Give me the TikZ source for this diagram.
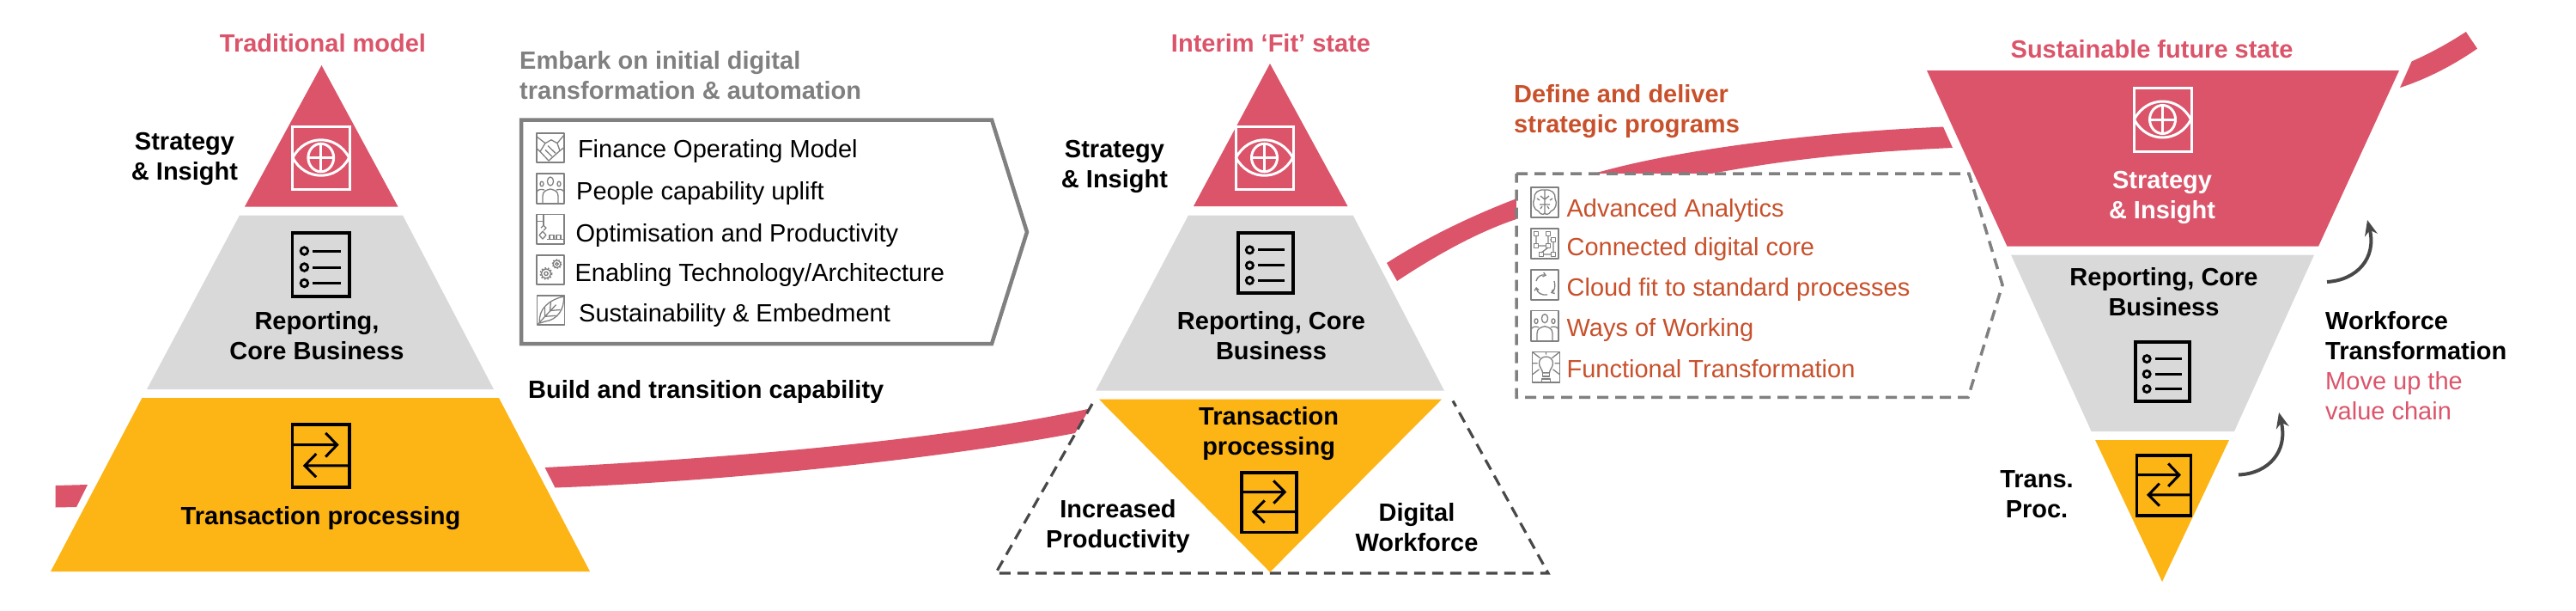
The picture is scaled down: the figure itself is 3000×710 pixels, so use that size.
\documentclass[tikz,border=0pt]{standalone}
\usepackage{fontspec}
\setmainfont{Liberation Sans}
\usetikzlibrary{arrows.meta}
\definecolor{pinkc}{HTML}{DB546A}
\definecolor{greyc}{HTML}{D9D9D9}
\definecolor{yelc}{HTML}{FDB415}
\definecolor{orac}{HTML}{C8502B}
\definecolor{midg}{HTML}{808080}
\definecolor{darkg}{HTML}{484848}
\tikzset{
  lbl/.style={inner sep=0pt,yshift=-3pt,align=center,font=\fontsize{29}{35}\selectfont},
  lblb/.style={lbl,font=\fontsize{29}{35}\selectfont\bfseries},
  lblw/.style={inner sep=0pt,yshift=-3pt,anchor=west,align=left,font=\fontsize{29}{35}\selectfont},
  lblwb/.style={lblw,font=\fontsize{29}{35}\selectfont\bfseries},
  ico/.style={line width=1.3pt,draw=midg,line join=round},
  bandc/.style={fill=pinkc,draw=none},
  flowarrow/.style={draw=darkg,line width=4pt,-{Stealth[length=18pt,width=15pt]}},
}
% large icons: drawn in a 67 x 74 box
\newcommand{\iconeye}[5]{\begin{scope}[shift={(#1,#2)},xscale=#3/67,yscale=#4/74,draw=#5,line width=3pt]
  \draw (0,0) rectangle (67,74);
  \draw (0.5,37) .. controls (15,9) and (52,9) .. (66.5,37) .. controls (52,65) and (15,65) .. (0.5,37) -- cycle;
  \draw (33.5,37) ellipse [x radius=15,y radius=16.5];
  \draw (33.5,20.5) -- (33.5,53.5) (18.5,37) -- (48.5,37);
\end{scope}}
\newcommand{\iconlist}[4]{\begin{scope}[shift={(#1,#2)},xscale=#3/67,yscale=#4/74,draw=black,line width=3.6pt]
  \draw (0,0) rectangle (67,74);
  \foreach \yy in {21,40,58.5}{
    \draw[line width=2.8pt] (14,\yy) circle [radius=4.3];
    \draw[line width=3pt] (24,\yy) -- (57,\yy);}
\end{scope}}
\newcommand{\iconarrows}[4]{\begin{scope}[shift={(#1,#2)},xscale=#3/67,yscale=#4/74,draw=black,line width=3.6pt]
  \draw (0,0) rectangle (67,74);
  \draw[line width=3pt] (0,24) -- (52.5,24) (39,10) -- (52.5,24) -- (39,38);
  \draw[line width=3pt] (67,48.5) -- (14.5,48.5) (28,34.5) -- (14.5,48.5) -- (28,62);
\end{scope}}
% small icons: drawn in a 32 x 35 box
\newcommand{\smallico}[5]{\begin{scope}[shift={(#1,#2)},xscale=#3/32,yscale=#4/35,ico]
  \draw (0,0) rectangle (32,35);
  #5
\end{scope}}
\newcommand{\gshake}{\draw (0,4) -- (10,12) -- (17,8) -- (24,12) -- (32,2);
  \draw (10,12) -- (4,22) -- (14,33) -- (27,21) -- (24,12);
  \draw (13,15) -- (22,24) (10,20) -- (18,28) (4,22) -- (0,18) (27,21) -- (32,17);}
\newcommand{\gpeople}{\draw (16,9) ellipse [x radius=3.6,y radius=5];
  \draw (6,12) ellipse [x radius=2,y radius=2.8] (26,12) ellipse [x radius=2,y radius=2.8];
  \draw (7,35) -- (7,26) .. controls (7,20) and (12,19) .. (16,18) .. controls (20,19) and (25,20) .. (25,26) -- (25,35);
  \draw (0,22) .. controls (1,18) and (5,18) .. (9,19) (32,22) .. controls (31,18) and (27,18) .. (23,19);}
\newcommand{\grobot}{\draw (0,8) -- (8,8) (8,0) -- (8,13);
  \draw (8,13) -- (11,16) -- (8,19) (8,13) -- (5,16);
  \draw (7,20) -- (11,24.5) -- (7,29) -- (3,24.5) -- cycle;
  \draw (12,29.5) -- (32,29.5) (15,24) rectangle (20,29.5) (23,24) rectangle (28,29.5);}
\newcommand{\ggears}{\draw (11,22) circle [radius=2.2] (11,22) circle [radius=5.6];
  \draw[line width=1.8pt,dash pattern=on 1.6pt off 2pt] (11,22) circle [radius=6.6];
  \draw (23.5,10.5) circle [radius=1.8] (23.5,10.5) circle [radius=4.4];
  \draw[line width=1.6pt,dash pattern=on 1.4pt off 1.8pt] (23.5,10.5) circle [radius=5.2];}
\newcommand{\gleaf}{\draw (3,33) .. controls (1,16) and (14,5) .. (31,1) .. controls (32,16) and (24,29) .. (9,31) -- (3,33) -- cycle;
  \draw (1,34) -- (22,11) (9,25) -- (9,14) (9,25) -- (22,24) (15,18) -- (16,7) (15,18) -- (27,17);}
\newcommand{\gbrain}{\draw (16,3) .. controls (8,2) and (3,7) .. (4,13) .. controls (1,18) and (3,26) .. (9,28) .. controls (11,32) and (15,32) .. (16,30) .. controls (17,32) and (21,32) .. (23,28) .. controls (29,26) and (31,18) .. (28,13) .. controls (29,7) and (24,2) .. (16,3) -- cycle;
  \draw (16,3) -- (16,30) (16,14) -- (11,10) (16,14) -- (21,10) (16,20) -- (10,20) (16,20) -- (22,20) (11,25) -- (13,22) (21,25) -- (19,22);
  \draw (7,13) -- (10,15) (25,13) -- (22,15);}
\newcommand{\gnetwork}{\foreach \px/\py in {6/6,20/6,26/13,6/20,20/20,12/30,26/30}{\draw (\px-2.2,\py-2.2) rectangle (\px+2.2,\py+2.2);}
  \draw (6,8) -- (6,18) (8,20) -- (18,20) (20,8) -- (20,18) (22,13) -- (24,13) (20,22) -- (12,28) (14,30) -- (24,30) (26,15) -- (26,28);}
\newcommand{\gcycle}{\draw[-{Straight Barb[length=3pt,width=5pt]}] (6,13) .. controls (7,8) and (12,5) .. (18,6.5);
  \draw[-{Straight Barb[length=3pt,width=5pt]}] (27,13) .. controls (29,19) and (27,25) .. (23,27);
  \draw[-{Straight Barb[length=3pt,width=5pt]}] (19,29) .. controls (13,30) and (7,27) .. (6,20);}
\newcommand{\gbulb}{\draw (12,24) .. controls (12,20) and (8,18) .. (8,13) .. controls (8,3) and (24,3) .. (24,13) .. controls (24,18) and (20,20) .. (20,24) -- cycle;
  \draw (12,24) -- (12,28) -- (20,28) -- (20,24) (11,31) rectangle (21,35);
  \draw (16,0) -- (16,3) (0,0) -- (9,7) (32,0) -- (23,7) (0,13) -- (6,13) (32,13) -- (26,13) (0,26) -- (8,20) (32,26) -- (24,20);}
\begin{document}
\begin{tikzpicture}[x=1pt,y=-1pt]
\useasboundingbox (0,0) rectangle (3000,710);
% ---- sweeping band ----
\fill[bandc] (64.5,565) -- (102,564) -- (89,590) -- (64.5,590.5) -- cycle;
\fill[bandc] (634.5,544) .. controls (850,533) and (1100,512) .. (1269,475.5) -- (1252,504) .. controls (1100,533) and (850,560) .. (646.5,567.5) -- cycle;
\fill[bandc] (1615,306) .. controls (1690,258) and (1780,222) .. (1858,201.5) .. controls (1960,172) and (2130,153) .. (2263,147.6) -- (2274,172) .. controls (2160,177) and (2080,186) .. (1996,201.5) .. controls (1920,215) and (1840,230) .. (1766,255) .. controls (1715,272) and (1665,302) .. (1627,327) -- cycle;
\fill[bandc] (2808.6,71.5) .. controls (2832,61) and (2852,50) .. (2871.8,37) -- (2885,56.6) .. controls (2857,76) and (2826,92) .. (2795,102) -- cycle;
% ---- left pyramid ----
\fill[pinkc] (374.5,76) -- (463.5,240.5) -- (285,240.5) -- cycle;
\fill[greyc] (279,250.5) -- (469,250.5) -- (575,453) -- (171,453) -- cycle;
\fill[yelc] (165.5,463) -- (581,463) -- (687,665) -- (59,665) -- cycle;
\iconeye{340.5}{147}{66.5}{73}{white}
\iconlist{340.5}{271}{66.5}{74}
\iconarrows{340.5}{494}{66.5}{73}
\node[lblb,text=pinkc] (t1) at (376,50.7) {\strut Traditional model};
\node[lblb] (s1) at (215,181.5) {\strut Strategy\\\strut \& Insight};
\node[lblb] (r1) at (369,390.5) {\strut Reporting,\\\strut Core Business};
\node[lblb] (p1) at (373.5,600) {\strut Transaction processing};
% ---- first chevron ----
\node[lblwb,text=midg] (e1) at (605,87.5) {\strut Embark on initial digital\\\strut transformation \& automation};
\draw[midg,line width=4.5pt,fill=white,line join=miter] (607,139.5) -- (1155,139.5) -- (1196,270) -- (1155,400) -- (607,400) -- cycle;
\smallico{625}{155}{32}{34}{\gshake}
\smallico{625}{202}{32}{35}{\gpeople}
\smallico{625}{249.5}{32}{34.5}{\grobot}
\smallico{625}{297}{32}{34}{\ggears}
\smallico{625.5}{344}{32}{34}{\gleaf}
\node[lblw] (a1) at (672.8,173.5) {\strut Finance Operating Model};
\node[lblw] (a2) at (671,222) {\strut People capability uplift};
\node[lblw] (a3) at (670.4,271) {\strut Optimisation and Productivity};
\node[lblw] (a4) at (669.4,317.5) {\strut Enabling Technology/Architecture};
\node[lblw] (a5) at (674,364) {\strut Sustainability \& Embedment};
\node[lblwb] (b1) at (615,453) {\strut Build and transition capability};
% ---- middle pyramid ----
\draw[darkg,line width=3.2pt,dash pattern=on 13pt off 8pt] (1272,470) -- (1159.6,667) -- (1803,667) -- (1692,466.5);
\fill[pinkc] (1479,74) -- (1569.5,240) -- (1390,240) -- cycle;
\fill[greyc] (1384,250.5) -- (1575.7,250.5) -- (1682,454.7) -- (1276,454.7) -- cycle;
\fill[yelc] (1280,464.7) -- (1679,464.7) -- (1479,665.8) -- cycle;
\iconeye{1439}{147}{67}{73}{white}
\iconlist{1442}{271}{64}{70}
\iconarrows{1446}{550}{64}{69.5}
\node[lblb,text=pinkc] (t2) at (1480,50) {\strut Interim ‘Fit’ state};
\node[lblb] (s2) at (1298,190.5) {\strut Strategy\\\strut \& Insight};
\node[lblb] (r2) at (1480.5,390.5) {\strut Reporting, Core\\\strut Business};
\node[lblb] (p2) at (1477.6,502) {\strut Transaction\\\strut processing};
\node[lblb] (i2) at (1302,609.5) {\strut Increased\\\strut Productivity};
\node[lblb] (d2) at (1650,613.5) {\strut Digital\\\strut Workforce};
% ---- second chevron ----
\node[lblwb,text=orac] (e2) at (1763,126.7) {\strut Define and deliver\\\strut strategic programs};
\draw[midg,line width=3.5pt,fill=white,dash pattern=on 13pt off 8pt] (1766,202) -- (2293,202) -- (2332,331.5) -- (2292,462.4) -- (1766,462.4) -- cycle;
\smallico{1783}{218}{32}{35}{\gbrain}
\smallico{1783}{266}{32}{35}{\gnetwork}
\smallico{1783}{314}{32}{35}{\gcycle}
\smallico{1783}{361.5}{32}{35.5}{\gpeople}
\smallico{1784.5}{409.5}{32}{35.5}{\gbulb}
\node[lblw,text=orac] (c1) at (1824.4,242) {\strut Advanced Analytics};
\node[lblw,text=orac] (c2) at (1824.4,287) {\strut Connected digital core};
\node[lblw,text=orac] (c3) at (1824.4,334) {\strut Cloud fit to standard processes};
\node[lblw,text=orac] (c4) at (1824.4,381) {\strut Ways of Working};
\node[lblw,text=orac] (c5) at (1824.4,429) {\strut Functional Transformation};
% ---- inverted pyramid ----
\fill[pinkc] (2244,82) -- (2794,82) -- (2700,286.7) -- (2337.5,286.7) -- cycle;
\fill[greyc] (2342,296.6) -- (2695,296.6) -- (2602,502) -- (2435.6,502) -- cycle;
\fill[yelc] (2440,512) -- (2596,512) -- (2518,677) -- cycle;
\iconeye{2485}{102}{67}{74}{white}
\iconlist{2487}{398}{63}{69}
\iconarrows{2488.5}{530}{63}{70}
\node[lblb,text=pinkc] (t3) at (2506,57) {\strut Sustainable future state};
\node[lblb,text=white] (s3) at (2518,227) {\strut Strategy\\\strut \& Insight};
\node[lblb] (r3) at (2520,339.5) {\strut Reporting, Core\\\strut Business};
\node[lblb] (p3) at (2372,574.5) {\strut Trans.\\\strut Proc.};
\node[lblwb] (w3) at (2708,390.5) {\strut Workforce\\\strut Transformation};
\node[lblw,text=pinkc] (m3) at (2708,461) {\strut Move up the\\\strut value chain};
% ---- curved arrows ----
\coordinate (fa1) at (2710,328);
\coordinate (fb1) at (2757,256);
\coordinate (fa2) at (2607,552.5);
\coordinate (fb2) at (2654,480);
\draw[flowarrow] (fa1) .. controls (2745,326) and (2768,300) .. (fb1);
\draw[flowarrow] (fa2) .. controls (2642,551) and (2665,525) .. (fb2);
\end{tikzpicture}
\end{document}
